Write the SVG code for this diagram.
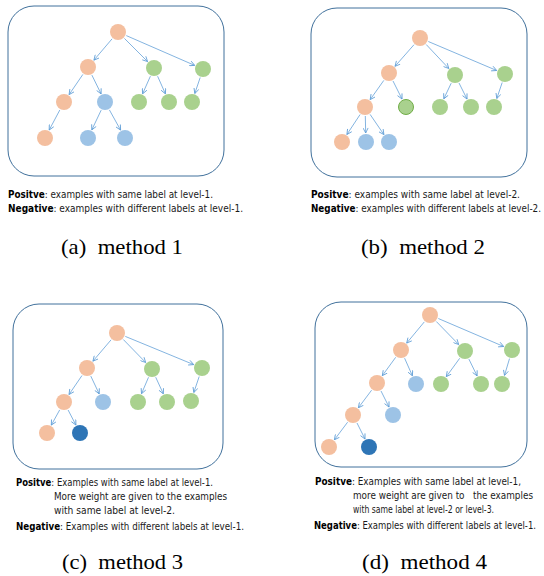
<svg xmlns="http://www.w3.org/2000/svg" width="544" height="576" viewBox="0 0 544 576">
<defs>
<marker id="arr" viewBox="0 0 6 6" refX="5.5" refY="3" markerWidth="6" markerHeight="6" markerUnits="userSpaceOnUse" orient="auto">
<path d="M0.5,0.5 L5.5,3 L0.5,5.5" fill="none" stroke="#5B9BD5" stroke-width="0.8"/>
</marker>
</defs>
<style>
.box{fill:#fff;stroke:#41719C;stroke-width:1}
.o{fill:#F4BF9F}
.g{fill:#A9D18E}
.b{fill:#9DC3E6}
.db{fill:#2E75B6}
.go{fill:#A9D18E;stroke:#70AD47;stroke-width:1}
.e line{stroke:#5B9BD5;stroke-width:0.75;marker-end:url(#arr)}
.t{font-family:"Liberation Sans Narrow","DejaVu Sans Condensed","DejaVu Sans",sans-serif;font-stretch:condensed;font-size:10px;fill:#1a1a1a}
.t .k{font-weight:bold;fill:#000}
.cap{font-family:"Liberation Serif","DejaVu Serif","Times New Roman",serif;font-size:21px;fill:#000}
</style>

<!-- Panel a -->
<g id="panel-a">
<rect id="box-a" class="box" x="8" y="6" width="216" height="170" rx="26"/>
<g id="edges-a" class="e">
<line x1="112.1" y1="38.8" x2="93.9" y2="60.2"/>
<line x1="124.4" y1="38.4" x2="147.6" y2="61.6"/>
<line x1="126.3" y1="35.6" x2="194.7" y2="65.4"/>
<line x1="82.9" y1="74.4" x2="69.1" y2="94.6"/>
<line x1="91.9" y1="75.1" x2="101.1" y2="93.9"/>
<line x1="150.4" y1="76.2" x2="142.6" y2="93.8"/>
<line x1="157.6" y1="76.2" x2="165.4" y2="93.8"/>
<line x1="200.2" y1="77.5" x2="194.8" y2="93.5"/>
<line x1="59.8" y1="110.0" x2="49.2" y2="130.0"/>
<line x1="101.2" y1="110.1" x2="91.8" y2="129.9"/>
<line x1="109.4" y1="109.9" x2="120.6" y2="130.1"/>
</g>
<g id="a-root"><circle class="o" cx="118" cy="32" r="8"/></g>
<g id="a-n1"><circle class="o" cx="88" cy="67" r="8"/></g>
<g id="a-n2"><circle class="g" cx="154" cy="68" r="8"/></g>
<g id="a-n3"><circle class="g" cx="203" cy="69" r="8"/></g>
<g id="a-n4"><circle class="o" cx="64" cy="102" r="8"/></g>
<g id="a-n5"><circle class="b" cx="105" cy="102" r="8"/></g>
<g id="a-n6"><circle class="g" cx="139" cy="102" r="8"/></g>
<g id="a-n7"><circle class="g" cx="169" cy="102" r="8"/></g>
<g id="a-n8"><circle class="g" cx="192" cy="102" r="8"/></g>
<g id="a-n9"><circle class="o" cx="45" cy="138" r="8"/></g>
<g id="a-n10"><circle class="b" cx="88" cy="138" r="8"/></g>
<g id="a-n11"><circle class="b" cx="125" cy="138" r="8"/></g>
<text class="t" x="8" y="198" textLength="205" lengthAdjust="spacingAndGlyphs"><tspan class="k">Positve</tspan>: examples with same label at level-1.</text>
<text class="t" x="8" y="212" textLength="235" lengthAdjust="spacingAndGlyphs"><tspan class="k">Negative</tspan>: examples with different labels at level-1.</text>
<text class="cap" x="61" y="254" textLength="122" lengthAdjust="spacingAndGlyphs" xml:space="preserve">(a)  method 1</text>
</g>

<!-- Panel b -->
<g id="panel-b">
<rect id="box-b" class="box" x="311" y="8" width="216" height="169" rx="26"/>
<g id="edges-b" class="e">
<line x1="414.0" y1="44.7" x2="395.0" y2="66.3"/>
<line x1="426.2" y1="44.5" x2="448.8" y2="68.5"/>
<line x1="428.3" y1="41.5" x2="496.7" y2="70.5"/>
<line x1="383.8" y1="80.4" x2="370.2" y2="99.6"/>
<line x1="393.0" y1="81.0" x2="402.0" y2="99.0"/>
<line x1="451.2" y1="83.2" x2="443.8" y2="98.8"/>
<line x1="459.0" y1="83.0" x2="467.0" y2="99.0"/>
<line x1="502.2" y1="82.5" x2="496.8" y2="98.5"/>
<line x1="360.1" y1="114.5" x2="346.9" y2="134.5"/>
<line x1="365.3" y1="116.0" x2="365.7" y2="133.0"/>
<line x1="370.1" y1="114.4" x2="383.9" y2="134.6"/>
</g>
<g id="b-root"><circle class="o" cx="420" cy="38" r="8"/></g>
<g id="b-n1"><circle class="o" cx="389" cy="73" r="8"/></g>
<g id="b-n2"><circle class="g" cx="455" cy="75" r="8"/></g>
<g id="b-n3"><circle class="g" cx="505" cy="74" r="8"/></g>
<g id="b-n4"><circle class="o" cx="365" cy="107" r="8"/></g>
<g id="b-n5"><circle class="go" cx="406" cy="107" r="7.5"/></g>
<g id="b-n6"><circle class="g" cx="440" cy="107" r="8"/></g>
<g id="b-n7"><circle class="g" cx="471" cy="107" r="8"/></g>
<g id="b-n8"><circle class="g" cx="494" cy="107" r="8"/></g>
<g id="b-n9"><circle class="o" cx="342" cy="142" r="8"/></g>
<g id="b-n10"><circle class="b" cx="366" cy="142" r="8"/></g>
<g id="b-n11"><circle class="b" cx="389" cy="142" r="8"/></g>
<text class="t" x="311" y="198" textLength="209" lengthAdjust="spacingAndGlyphs"><tspan class="k">Positve</tspan>: examples with same label at level-2.</text>
<text class="t" x="311" y="212" textLength="230" lengthAdjust="spacingAndGlyphs"><tspan class="k">Negative</tspan>: examples with different labels at level-2.</text>
<text class="cap" x="361" y="254" textLength="124" lengthAdjust="spacingAndGlyphs" xml:space="preserve">(b)  method 2</text>
</g>

<!-- Panel c -->
<g id="panel-c">
<rect id="box-c" class="box" x="13" y="304" width="210" height="165" rx="26"/>
<g id="edges-c" class="e">
<line x1="111.1" y1="339.8" x2="92.9" y2="361.2"/>
<line x1="123.3" y1="339.5" x2="145.7" y2="362.5"/>
<line x1="125.3" y1="336.4" x2="193.7" y2="364.6"/>
<line x1="82.0" y1="375.5" x2="69.0" y2="394.5"/>
<line x1="90.8" y1="376.1" x2="99.2" y2="393.9"/>
<line x1="148.5" y1="377.3" x2="141.5" y2="393.7"/>
<line x1="155.7" y1="377.2" x2="163.3" y2="393.8"/>
<line x1="199.2" y1="376.5" x2="193.8" y2="392.5"/>
<line x1="59.7" y1="409.9" x2="51.3" y2="425.1"/>
<line x1="68.1" y1="410.0" x2="75.9" y2="425.0"/>
</g>
<g id="c-root"><circle class="o" cx="117" cy="333" r="8"/></g>
<g id="c-n1"><circle class="o" cx="87" cy="368" r="8"/></g>
<g id="c-n2"><circle class="g" cx="152" cy="369" r="8"/></g>
<g id="c-n3"><circle class="g" cx="202" cy="368" r="8"/></g>
<g id="c-n4"><circle class="o" cx="64" cy="402" r="8"/></g>
<g id="c-n5"><circle class="b" cx="103" cy="402" r="8"/></g>
<g id="c-n6"><circle class="g" cx="138" cy="402" r="8"/></g>
<g id="c-n7"><circle class="g" cx="167" cy="402" r="8"/></g>
<g id="c-n8"><circle class="g" cx="191" cy="401" r="8"/></g>
<g id="c-n9"><circle class="o" cx="47" cy="433" r="8"/></g>
<g id="c-n10"><circle class="db" cx="80" cy="433" r="8"/></g>
<text class="t" x="16" y="486" textLength="197" lengthAdjust="spacingAndGlyphs"><tspan class="k">Positve</tspan>: Examples with same label at level-1.</text>
<text class="t" x="54" y="500" textLength="173" lengthAdjust="spacingAndGlyphs">More weight are given to the examples</text>
<text class="t" x="54" y="514" textLength="121" lengthAdjust="spacingAndGlyphs">with same label at level-2.</text>
<text class="t" x="16" y="530" textLength="228" lengthAdjust="spacingAndGlyphs"><tspan class="k">Negative</tspan>: Examples with different labels at level-1.</text>
<text class="cap" x="62" y="569" textLength="121" lengthAdjust="spacingAndGlyphs" xml:space="preserve">(c)  method 3</text>
</g>

<!-- Panel d -->
<g id="panel-d">
<rect id="box-d" class="box" x="315" y="302" width="212" height="165" rx="26"/>
<g id="edges-d" class="e">
<line x1="424.3" y1="321.9" x2="406.7" y2="343.1"/>
<line x1="436.3" y1="321.5" x2="458.7" y2="344.5"/>
<line x1="438.3" y1="318.5" x2="503.7" y2="346.5"/>
<line x1="395.7" y1="357.3" x2="382.3" y2="375.7"/>
<line x1="404.6" y1="358.2" x2="412.4" y2="375.8"/>
<line x1="459.7" y1="358.3" x2="446.3" y2="376.7"/>
<line x1="468.9" y1="359.1" x2="477.1" y2="375.9"/>
<line x1="509.5" y1="358.6" x2="504.5" y2="375.4"/>
<line x1="371.6" y1="390.2" x2="358.4" y2="407.8"/>
<line x1="381.0" y1="391.0" x2="389.0" y2="407.0"/>
<line x1="347.6" y1="422.2" x2="334.4" y2="439.8"/>
<line x1="357.0" y1="423.0" x2="365.0" y2="439.0"/>
</g>
<g id="d-root"><circle class="o" cx="430" cy="315" r="8"/></g>
<g id="d-n1"><circle class="o" cx="401" cy="350" r="8"/></g>
<g id="d-n2"><circle class="g" cx="465" cy="351" r="8"/></g>
<g id="d-n3"><circle class="g" cx="512" cy="350" r="8"/></g>
<g id="d-n4"><circle class="o" cx="377" cy="383" r="8"/></g>
<g id="d-n5"><circle class="b" cx="416" cy="384" r="8"/></g>
<g id="d-n6"><circle class="g" cx="441" cy="384" r="8"/></g>
<g id="d-n7"><circle class="g" cx="481" cy="384" r="8"/></g>
<g id="d-n8"><circle class="g" cx="502" cy="384" r="8"/></g>
<g id="d-n9"><circle class="o" cx="353" cy="415" r="8"/></g>
<g id="d-n10"><circle class="b" cx="393" cy="415" r="8"/></g>
<g id="d-n11"><circle class="o" cx="329" cy="447" r="8"/></g>
<g id="d-n12"><circle class="db" cx="369" cy="447" r="8"/></g>
<text class="t" x="315" y="485" textLength="206" lengthAdjust="spacingAndGlyphs"><tspan class="k">Positve</tspan>: Examples with same label at level-1,</text>
<text class="t" x="353" y="499" textLength="180" lengthAdjust="spacingAndGlyphs" xml:space="preserve">more weight are given to   the examples</text>
<text class="t" x="353" y="513" textLength="141" lengthAdjust="spacingAndGlyphs">with same label at level-2 or level-3.</text>
<text class="t" x="314" y="529" textLength="222" lengthAdjust="spacingAndGlyphs"><tspan class="k">Negative</tspan>: Examples with different labels at level-1.</text>
<text class="cap" x="362" y="569" textLength="125" lengthAdjust="spacingAndGlyphs" xml:space="preserve">(d)  method 4</text>
</g>
</svg>
